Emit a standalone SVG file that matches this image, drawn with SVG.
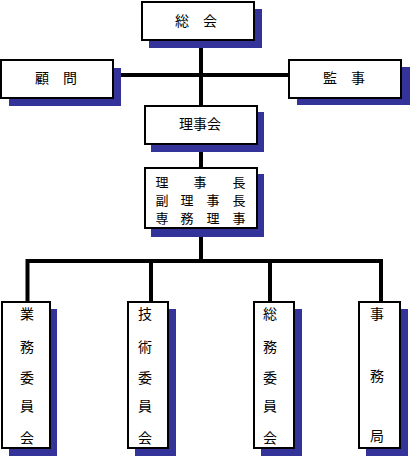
<svg xmlns="http://www.w3.org/2000/svg" width="411" height="458" viewBox="0 0 411 458">
<style>
.sh{fill:#333399}
.bx{fill:#fff;stroke:#000;stroke-width:2}
.ln{fill:none;stroke:#000;stroke-width:4;stroke-linejoin:miter;stroke-linecap:butt}
text{font-family:"MS Gothic","Noto Sans CJK JP",sans-serif;font-size:14px;fill:#000;text-anchor:middle;dominant-baseline:central}
.sm{font-size:13px}
</style>
<rect width="411" height="458" fill="#fff"/>
<g id="connectors">
<path class="ln" d="M201 40V105"/>
<path class="ln" d="M113 75H288"/>
<path class="ln" d="M201 145V167"/>
<path class="ln" d="M201 229V261"/>
<path class="ln" d="M27.5 302V261H381V302"/>
<path class="ln" d="M151 261V302"/>
<path class="ln" d="M270 261V302"/>
</g>
<g id="soukai">
<rect class="sh" x="149" y="9" width="113" height="39"/>
<rect class="bx" x="142" y="2" width="112" height="38"/>
<text x="182" y="20">総</text><text x="210" y="20">会</text>
</g>
<g id="komon">
<rect class="sh" x="9" y="68" width="112" height="38"/>
<rect class="bx" x="1" y="60" width="112" height="38"/>
<text x="42" y="77">顧</text><text x="70" y="77">問</text>
</g>
<g id="kanji">
<rect class="sh" x="297" y="67" width="113" height="38"/>
<rect class="bx" x="289" y="60" width="112" height="38"/>
<text x="330" y="77">監</text><text x="358" y="77">事</text>
</g>
<g id="rijikai">
<rect class="sh" x="151" y="112" width="113" height="40"/>
<rect class="bx" x="145" y="106" width="112" height="38"/>
<text x="200" y="123">理事会</text>
</g>
<g id="rijicho">
<rect class="sh" x="151" y="174" width="113" height="63"/>
<rect class="bx" x="145" y="168" width="112" height="60"/>
<text class="sm" x="162" y="181">理</text><text class="sm" x="200" y="181">事</text><text class="sm" x="239" y="181">長</text>
<text class="sm" x="162" y="199">副</text><text class="sm" x="187" y="199">理</text><text class="sm" x="213" y="199">事</text><text class="sm" x="239" y="199">長</text>
<text class="sm" x="162" y="217">専</text><text class="sm" x="187" y="217">務</text><text class="sm" x="213" y="217">理</text><text class="sm" x="239" y="217">事</text>
</g>
<g id="gyomu">
<rect class="sh" x="9" y="309" width="48" height="147"/>
<rect class="bx" x="2" y="302" width="48" height="146"/>
<text x="27" y="313">業</text><text x="27" y="346">務</text><text x="27" y="377">委</text><text x="27" y="405">員</text><text x="27" y="437">会</text>
</g>
<g id="gijutsu">
<rect class="sh" x="135" y="309" width="41" height="147"/>
<rect class="bx" x="128" y="302" width="40" height="146"/>
<text x="145" y="313">技</text><text x="145" y="346">術</text><text x="145" y="377">委</text><text x="145" y="405">員</text><text x="145" y="437">会</text>
</g>
<g id="somu">
<rect class="sh" x="261" y="309" width="41" height="147"/>
<rect class="bx" x="254" y="302" width="40" height="146"/>
<text x="270" y="313">総</text><text x="270" y="346">務</text><text x="270" y="377">委</text><text x="270" y="405">員</text><text x="270" y="437">会</text>
</g>
<g id="jimukyoku">
<rect class="sh" x="366" y="309" width="42" height="147"/>
<rect class="bx" x="359" y="302" width="41" height="146"/>
<text x="377" y="313">事</text><text x="377" y="375">務</text><text x="377" y="435">局</text>
</g>
</svg>
